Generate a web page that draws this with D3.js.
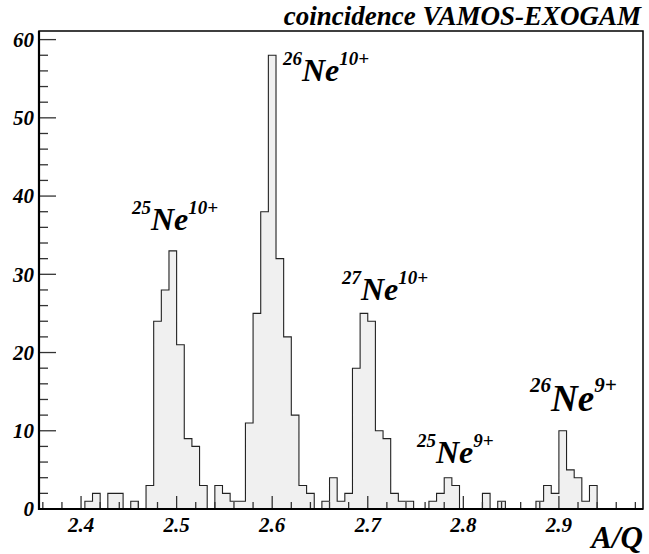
<!DOCTYPE html>
<html>
<head>
<meta charset="utf-8">
<script src="https://cdn.jsdelivr.net/npm/d3@7"></script>
<style>
body{margin:0;background:#fff}
</style>
</head>
<body>
<script>
// histogram definition
const binLo=2.356
const binWidth=0.008
const counts=[0,0,0,0,0,0,1,2,0,2,2,0,1,0,3,24,28,33,21,9,8,3,0,3,2,1,1,11,25,38,58,32,22,12,3,2,0,1,4,1,2,18,25,24,10,9,2,1,1,0,0,1,2,4,3,0,0,0,2,0,1,0,0,0,0,1,3,2,10,5,4,1,3,0,0,0,0,0,0]
const xTicks=[2.4,2.5,2.6,2.7,2.8,2.9]
const yTicks=[0,10,20,30,40,50,60]
const title="coincidence VAMOS-EXOGAM"
const xTitle="A/Q"
// peak labels: mass, charge, position in data units
const peakMass=["25","26","27","25","26"]
const peakCharge=["10+","10+","10+","9+","9+"]
const peakX=[2.4533,2.6113,2.673,2.7515,2.8698]
const peakY=[35.6,54.75,26.7,5.9,12.5]

const font="Liberation Serif"
const w=649,h=554
const m={l:39,r:6,t:31,b:45}
const svg=d3.select("body").append("svg").attr("width",w).attr("height",h)

const x=d3.scaleLinear().domain([binLo,binLo+counts.length*binWidth]).range([m.l,w-m.r])
const y=d3.scaleLinear().domain([0,61.1]).range([h-m.b,m.t])

function txt(sel){
  return sel.append("text").attr("font-family",font).attr("font-weight","bold").attr("font-style","italic").attr("fill","#000")
}

//step outline of the histogram
const pts=[]
counts.forEach((c,i)=>{
  pts.push([binLo+i*binWidth,c])
  pts.push([binLo+(i+1)*binWidth,c])
})
const line=d3.line().x(d=>x(d[0])).y(d=>y(d[1]))
svg.append("path")
  .attr("d",line([[binLo,0],...pts,[binLo+counts.length*binWidth,0]]))
  .attr("fill","#f0f0f0").attr("stroke","#222").attr("stroke-width",1.1)

//frame
svg.append("rect").attr("x",m.l).attr("y",m.t).attr("width",w-m.r-m.l).attr("height",h-m.b-m.t)
  .attr("fill","none").attr("stroke","#000").attr("stroke-width",1.5)

//y axis
const gy=svg.append("g").attr("transform","translate("+m.l+",0)")
gy.selectAll("line").data(d3.range(0,61,2)).enter().append("line")
  .attr("x1",0).attr("x2",d=>d%10===0?17:9)
  .attr("y1",d=>y(d)).attr("y2",d=>y(d))
  .attr("stroke","#333").attr("stroke-width",1.3)
yTicks.forEach(d=>{
  txt(gy).attr("x",-5).attr("y",y(d)).attr("dy","0.35em")
    .attr("text-anchor","end").attr("font-size",21).text(d)
})

//x axis
const minor=d3.range(2.36,2.99,0.02).map(d=>+d.toFixed(2))
const gx=svg.append("g")
gx.selectAll("line").data(minor).enter().append("line")
  .attr("x1",d=>x(d)).attr("x2",d=>x(d))
  .attr("y1",y(0)).attr("y2",d=>xTicks.includes(d)?y(0)-13:y(0)-7)
  .attr("stroke","#333").attr("stroke-width",1.3)
xTicks.forEach(d=>{
  txt(gx).attr("x",x(d)).attr("y",h-m.b+23)
    .attr("text-anchor","middle").attr("font-size",21).text(d.toFixed(1))
})

//thick axis lines
svg.append("line").attr("x1",m.l).attr("x2",m.l).attr("y1",m.t).attr("y2",y(0)+1).attr("stroke","#000").attr("stroke-width",2.2)
svg.append("line").attr("x1",m.l-1).attr("x2",w-m.r).attr("y1",y(0)).attr("y2",y(0)).attr("stroke","#000").attr("stroke-width",2.2)

//titles
txt(svg).attr("x",w-8).attr("y",25).attr("text-anchor","end").attr("font-size",27).text(title)
txt(svg).attr("x",w-6).attr("y",h-6).attr("text-anchor","end").attr("font-size",31).text(xTitle)

//peak labels
peakMass.forEach((ms,i)=>{
  const big=i===4
  const t=txt(svg).attr("x",x(peakX[i])).attr("y",y(peakY[i]))
  t.append("tspan").attr("font-size",big?21:19).attr("dy",big?-19:-16).text(ms)
  t.append("tspan").attr("font-size",big?37:32).attr("dy",big?19:16).text("Ne")
  t.append("tspan").attr("font-size",big?21:19).attr("dy",big?-19:-16).text(peakCharge[i])
})
</script>
</body>
</html>
